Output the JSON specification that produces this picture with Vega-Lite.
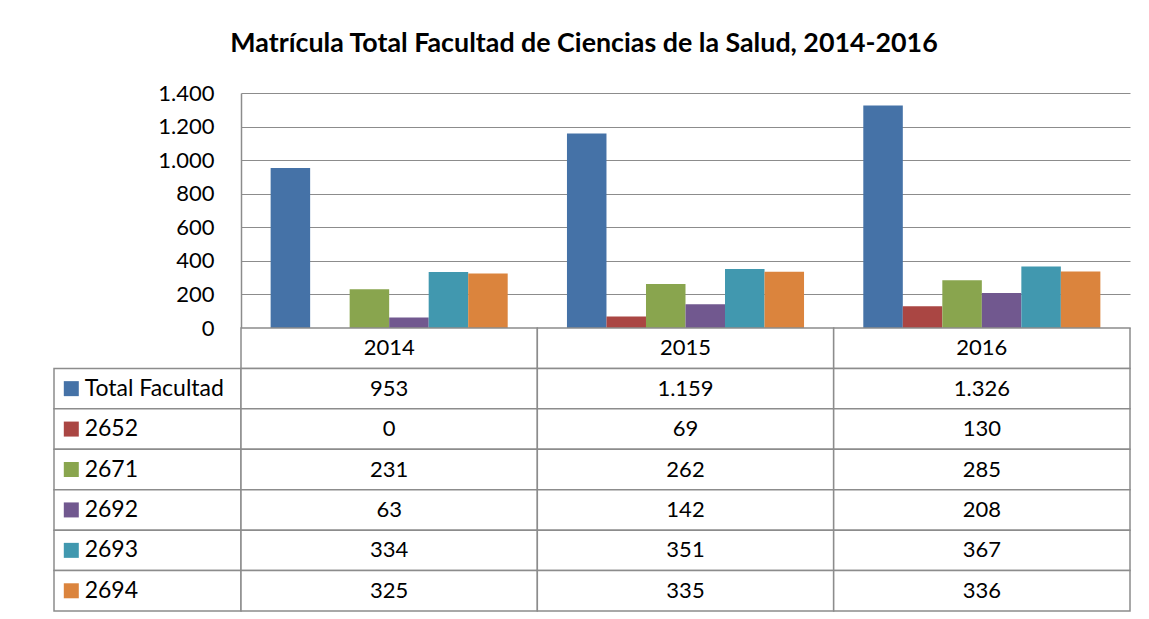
{
  "$schema": "https://vega.github.io/schema/vega-lite/v6.json",
  "padding": {"left": 53, "top": 31, "right": 5, "bottom": 5},
  "background": "white",
  "title": {"text": "Matrícula Total Facultad de Ciencias de la Salud, 2014-2016", "font": "Lato", "fontSize": 26.8, "fontWeight": "bold", "color": "black", "anchor": "middle", "offset": 24, "dx": -8},
  "datasets": {
    "table": [
      {"year": "2014", "series": "Total Facultad", "value": 953},
      {"year": "2014", "series": "2652", "value": 0},
      {"year": "2014", "series": "2671", "value": 231},
      {"year": "2014", "series": "2692", "value": 63},
      {"year": "2014", "series": "2693", "value": 334},
      {"year": "2014", "series": "2694", "value": 325},
      {"year": "2015", "series": "Total Facultad", "value": 1159},
      {"year": "2015", "series": "2652", "value": 69},
      {"year": "2015", "series": "2671", "value": 262},
      {"year": "2015", "series": "2692", "value": 142},
      {"year": "2015", "series": "2693", "value": 351},
      {"year": "2015", "series": "2694", "value": 335},
      {"year": "2016", "series": "Total Facultad", "value": 1326},
      {"year": "2016", "series": "2652", "value": 130},
      {"year": "2016", "series": "2671", "value": 285},
      {"year": "2016", "series": "2692", "value": 208},
      {"year": "2016", "series": "2693", "value": 367},
      {"year": "2016", "series": "2694", "value": 336}
    ]
  },
  "columns": 2,
  "spacing": 0,
  "bounds": "flush",
  "concat": [
    {
      "width": 187,
      "height": 235,
      "data": {"values": []},
      "mark": {"type": "text", "text": ""}
    },
    {
      "width": 889,
      "height": 235,
      "data": {"name": "table"},
      "mark": {"type": "bar"},
      "encoding": {
        "x": {"field": "year", "type": "nominal", "scale": {"paddingInner": 0.2, "paddingOuter": 0.1}, "axis": null},
        "xOffset": {"field": "series", "type": "nominal", "sort": ["Total Facultad", "2652", "2671", "2692", "2693", "2694"], "scale": {"paddingInner": 0, "paddingOuter": 0}},
        "y": {"field": "value", "type": "quantitative", "scale": {"domain": [0, 1400], "nice": false},
          "axis": {"title": null, "values": [0, 200, 400, 600, 800, 1000, 1200, 1400], "format": ",d", "grid": true, "gridColor": "#8c8c8c", "gridWidth": 1, "domainColor": "#8c8c8c", "domainWidth": 1.5, "ticks": false, "labelPadding": 27, "labelFont": "Lato", "labelFontSize": 22, "labelColor": "black"}},
        "color": {"field": "series", "type": "nominal", "legend": null,
          "scale": {"domain": ["Total Facultad", "2652", "2671", "2692", "2693", "2694"], "range": ["#4572A7", "#AA4643", "#89A54E", "#71588F", "#4198AF", "#DB843D"]}}
      }
    },
    {
      "width": 187,
      "height": 283,
      "data": {"name": "table"},
      "transform": [{"filter": "datum.year == '2014'"}],
      "encoding": {
        "y": {"field": "series", "type": "nominal", "axis": null,
          "scale": {"domain": ["header", "Total Facultad", "2652", "2671", "2692", "2693", "2694"], "paddingInner": 0, "paddingOuter": 0}}
      },
      "layer": [
        {"mark": {"type": "rect", "fill": "white", "stroke": "#8c8c8c", "strokeWidth": 1.5}},
        {"mark": {"type": "point", "shape": "square", "filled": true, "size": 225, "opacity": 1},
          "encoding": {
            "x": {"datum": "c", "type": "nominal", "bandPosition": 0.0925, "axis": null, "scale": {"type": "band", "domain": ["c"], "paddingInner": 0, "paddingOuter": 0}},
            "color": {"field": "series", "type": "nominal", "legend": null,
              "scale": {"domain": ["Total Facultad", "2652", "2671", "2692", "2693", "2694"], "range": ["#4572A7", "#AA4643", "#89A54E", "#71588F", "#4198AF", "#DB843D"]}}
          }},
        {"mark": {"type": "text", "align": "left", "baseline": "middle", "font": "Lato", "fontSize": 23, "color": "black"},
          "encoding": {
            "x": {"datum": "c", "type": "nominal", "bandPosition": 0.164},
            "text": {"field": "series"}
          }}
      ]
    },
    {
      "width": 889,
      "height": 283,
      "data": {"name": "table"},
      "encoding": {
        "x": {"field": "year", "type": "nominal", "axis": null, "scale": {"paddingInner": 0, "paddingOuter": 0}}
      },
      "layer": [
        {"transform": [{"filter": "datum.series == 'Total Facultad'"}],
          "mark": {"type": "rect", "fill": "white", "stroke": "#8c8c8c", "strokeWidth": 1.5},
          "encoding": {"y": {"datum": "header", "type": "nominal", "axis": null,
            "scale": {"domain": ["header", "Total Facultad", "2652", "2671", "2692", "2693", "2694"], "paddingInner": 0, "paddingOuter": 0}}}},
        {"mark": {"type": "rect", "fill": "white", "stroke": "#8c8c8c", "strokeWidth": 1.5},
          "encoding": {"y": {"field": "series", "type": "nominal"}}},
        {"transform": [{"filter": "datum.series == 'Total Facultad'"}],
          "mark": {"type": "text", "align": "center", "baseline": "middle", "font": "Lato", "fontSize": 22, "color": "black"},
          "encoding": {"y": {"datum": "header", "type": "nominal"}, "text": {"field": "year"}}},
        {"mark": {"type": "text", "align": "center", "baseline": "middle", "font": "Lato", "fontSize": 22, "color": "black"},
          "encoding": {"y": {"field": "series", "type": "nominal"}, "text": {"field": "value", "format": ",d"}}}
      ]
    }
  ],
  "config": {
    "view": {"stroke": null},
    "locale": {"number": {"decimal": ",", "thousands": ".", "grouping": [3], "currency": ["", " €"]}}
  }
}
